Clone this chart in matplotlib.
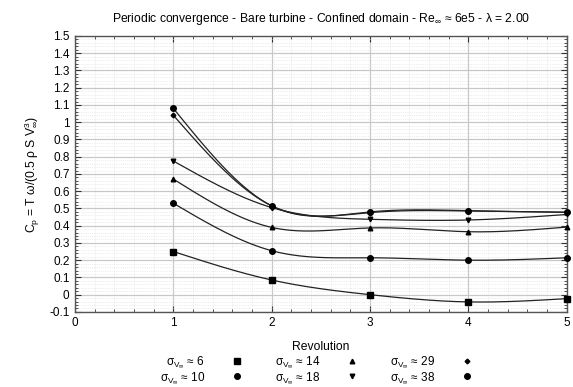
import matplotlib
matplotlib.use('Agg')
import matplotlib.pyplot as plt
import numpy as np
from matplotlib.ticker import MultipleLocator

plt.rcParams['font.family'] = ['Liberation Sans', 'DejaVu Sans']
plt.rcParams['mathtext.fontset'] = 'custom'
plt.rcParams['mathtext.rm'] = 'Liberation Sans'
plt.rcParams['mathtext.it'] = 'Liberation Sans:italic'

# Data
revolution = [1, 2, 3, 4, 5]
cp_s6 = [0.25, 0.085, 0.0, -0.042, -0.023]
cp_s10 = [0.53, 0.255, 0.214, 0.200, 0.214]
cp_s14 = [0.67, 0.39, 0.387, 0.365, 0.392]
cp_s18 = [0.775, 0.505, 0.437, 0.433, 0.465]
cp_s29 = [1.04, 0.515, 0.476, 0.485, 0.478]
cp_s38 = [1.08, 0.515, 0.48, 0.487, 0.478]
sigma_labels = ['6', '10', '14', '18', '29', '38']
markers = ['s', 'o', '^', 'v', 'D', 'o']
msizes = [4.0, 4.0, 3.3, 3.3, 2.4, 4.0]


def csplines(x, y, n=200):
    # natural cubic spline, like gnuplot "smooth csplines"
    x = np.asarray(x, float)
    y = np.asarray(y, float)
    k = len(x)
    h = np.diff(x)
    A = np.zeros((k, k))
    b = np.zeros(k)
    A[0, 0] = A[-1, -1] = 1
    for i in range(1, k - 1):
        A[i, i - 1] = h[i - 1]
        A[i, i] = 2 * (h[i - 1] + h[i])
        A[i, i + 1] = h[i]
        b[i] = 6 * ((y[i + 1] - y[i]) / h[i] - (y[i] - y[i - 1]) / h[i - 1])
    M = np.linalg.solve(A, b)
    xs = np.linspace(x[0], x[-1], n)
    idx = np.clip(np.searchsorted(x, xs) - 1, 0, k - 2)
    x0, x1 = x[idx], x[idx + 1]
    hh = x1 - x0
    ys = (M[idx] * (x1 - xs) ** 3 / (6 * hh) + M[idx + 1] * (xs - x0) ** 3 / (6 * hh)
          + (y[idx] / hh - M[idx] * hh / 6) * (x1 - xs)
          + (y[idx + 1] / hh - M[idx + 1] * hh / 6) * (xs - x0))
    return xs, ys


fig = plt.figure(figsize=(5.73, 3.87), dpi=100)
ax = fig.add_axes([0.131, 0.194, 0.858, 0.713])

series = [cp_s6, cp_s10, cp_s14, cp_s18, cp_s29, cp_s38]
handles = []
for cp, lab, m, ms in zip(series, sigma_labels, markers, msizes):
    xs, ys = csplines(revolution, cp)
    ax.plot(xs, ys, '-', color='#222222', linewidth=0.9, zorder=3)
    ax.plot(revolution, cp, linestyle='none', marker=m, markersize=ms,
            color='black', zorder=4, clip_on=False)
    h, = ax.plot([], [], linestyle='none', marker=m, markersize=ms, color='black',
                 label=r'σ$_{\mathregular{V}_\infty}$ ≈ ' + lab)
    handles.append(h)

ax.set_xlim(0, 5)
ax.set_ylim(-0.1, 1.5)
ax.xaxis.set_major_locator(MultipleLocator(1))
ax.xaxis.set_minor_locator(MultipleLocator(0.2))
ax.yaxis.set_minor_locator(MultipleLocator(0.02))
ax.set_yticks(np.arange(-0.1, 1.55, 0.1))
ax.set_yticklabels(['-0.1', '0', '0.1', '0.2', '0.3', '0.4', '0.5', '0.6', '0.7', '0.8',
                    '0.9', '1', '1.1', '1.2', '1.3', '1.4', '1.5'])
ax.grid(which='major', color='#c8c8c8', linewidth=0.9)
ax.grid(which='minor', color='#dcdcdc', linewidth=0.5, linestyle=':')
ax.tick_params(which='both', direction='in', top=True, right=True, labelsize=8.5,
               colors='#333333', labelcolor='black')
ax.tick_params(which='major', length=4, pad=4)
ax.tick_params(which='minor', length=2)
for s in ax.spines.values():
    s.set_color('#555555')
    s.set_linewidth(1)

ax.set_xlabel('Revolution', fontsize=8.7, labelpad=8)
ax.set_ylabel(r'C$_\mathregular{p}$ = T ω/(0.5 ρ S V$_\infty^\mathregular{3}$)',
              fontsize=8.7, labelpad=5)
ax.set_title(r'Periodic convergence - Bare turbine - Confined domain - '
             r'Re$_\infty$ ≈ 6e5 - λ = 2.00', fontsize=8.7, pad=10)

fig.legend(handles=handles, loc='upper center', bbox_to_anchor=(0.552, 0.1),
           ncol=3, frameon=False, fontsize=8.5, markerfirst=False,
           handletextpad=2.2, columnspacing=2.7, labelspacing=0.0,
           handlelength=1.0, borderpad=0)

fig.savefig('out.png', dpi=100)
